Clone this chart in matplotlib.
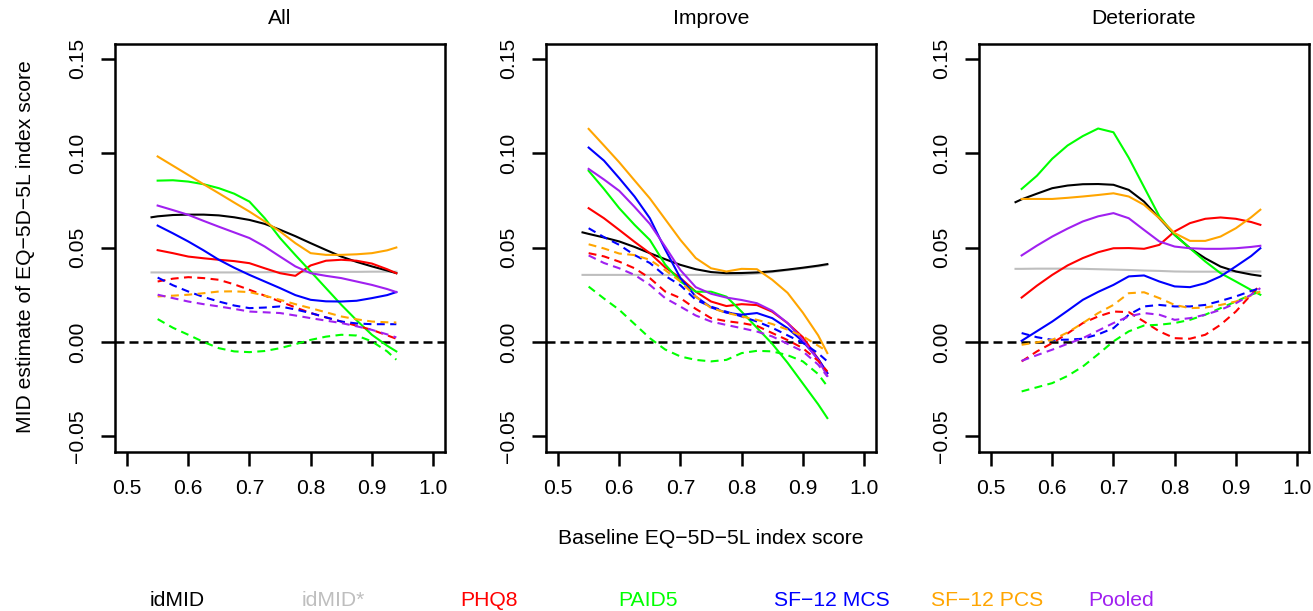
import matplotlib
matplotlib.use('Agg')
import matplotlib.pyplot as plt

plt.rcParams['font.family'] = ['Liberation Sans', 'DejaVu Sans']

# baseline EQ-5D-5L grid the curves are read at
x_grid = [0.55, 0.575, 0.60, 0.625, 0.65, 0.675, 0.70, 0.725, 0.75, 0.775,
          0.80, 0.825, 0.85, 0.875, 0.90, 0.925, 0.94]
x_id = [0.54] + x_grid   # idMID curves start a little earlier

panel_titles = ['All', 'Improve', 'Deteriorate']
legend_labels = ['idMID', 'idMID*', 'PHQ8', 'PAID5', 'SF\u221212 MCS', 'SF\u221212 PCS', 'Pooled']
legend_colors = ['black', '#BEBEBE', '#FF0000', '#00FF00', '#0000FF', '#FFA500', '#A020F0']
xticks = [0.5, 0.6, 0.7, 0.8, 0.9, 1.0]
xtick_labels = ['0.5', '0.6', '0.7', '0.8', '0.9', '1.0']
yticks = [-0.05, 0.0, 0.05, 0.10, 0.15]
ytick_labels = ['\u22120.05', '0.00', '0.05', '0.10', '0.15']

# ---- All ----
all_idmid = [0.066, 0.0665, 0.0672, 0.0674, 0.0674, 0.067, 0.066, 0.0646, 0.0625, 0.0594,
             0.056, 0.0523, 0.0487, 0.0452, 0.0424, 0.040, 0.0378, 0.0364]
all_idmid_s = [0.0368, 0.0368, 0.0368, 0.0368, 0.0368, 0.0368, 0.0368, 0.0369, 0.0369, 0.037,
               0.037, 0.037, 0.037, 0.0371, 0.0371, 0.0372, 0.0372, 0.0372]
all_phq8 = [0.0486, 0.047, 0.0452, 0.0443, 0.0435, 0.0428, 0.0417, 0.039, 0.0364, 0.035,
            0.0405, 0.043, 0.0435, 0.043, 0.0415, 0.0385, 0.0364]
all_paid5 = [0.0854, 0.0856, 0.0849, 0.0835, 0.0814, 0.0785, 0.0743, 0.0655, 0.055, 0.046,
             0.0373, 0.0285, 0.0197, 0.0115, 0.0038, -0.002, -0.005]
all_mcs = [0.0616, 0.0575, 0.0532, 0.0485, 0.0435, 0.0393, 0.0355, 0.032, 0.0285, 0.0248,
           0.0223, 0.0215, 0.0214, 0.0218, 0.0232, 0.0248, 0.0264]
all_pcs = [0.0982, 0.0933, 0.0884, 0.0835, 0.0787, 0.0738, 0.069, 0.0638, 0.0585, 0.0523,
           0.047, 0.0461, 0.0461, 0.0464, 0.047, 0.0485, 0.050]
all_pooled = [0.0722, 0.0698, 0.0673, 0.0641, 0.061, 0.058, 0.055, 0.0505, 0.0452, 0.040,
              0.0364, 0.035, 0.0338, 0.032, 0.0302, 0.028, 0.0264]
all_phq8_d = [0.032, 0.0335, 0.0343, 0.0338, 0.0329, 0.0305, 0.0276, 0.0245, 0.0214, 0.0183,
              0.0153, 0.013, 0.0108, 0.0086, 0.0064, 0.0035, 0.0017]
all_paid5_d = [0.0121, 0.0075, 0.0038, 0.0, -0.0033, -0.005, -0.0054, -0.0048, -0.0033, -0.0012,
               0.0011, 0.0028, 0.0038, 0.0034, 0.0003, -0.005, -0.0094]
all_mcs_d = [0.0341, 0.030, 0.0267, 0.0238, 0.0214, 0.0193, 0.0179, 0.0182, 0.0188, 0.0172,
             0.0153, 0.013, 0.0108, 0.0098, 0.0094, 0.0094, 0.0094]
all_pcs_d = [0.0241, 0.0245, 0.025, 0.0258, 0.0267, 0.0268, 0.0264, 0.0245, 0.0223, 0.020,
             0.0179, 0.0157, 0.0135, 0.012, 0.0108, 0.0104, 0.0103]
all_pooled_d = [0.025, 0.0232, 0.0214, 0.020, 0.0188, 0.0175, 0.0161, 0.0157, 0.0153, 0.014,
                0.0126, 0.0113, 0.010, 0.0083, 0.0064, 0.004, 0.0024]

# ---- Improve ----
imp_idmid = [0.058, 0.0572, 0.0553, 0.0532, 0.0503, 0.047, 0.0438, 0.0408, 0.0385, 0.037,
             0.0364, 0.0365, 0.0368, 0.0374, 0.0383, 0.0393, 0.0404, 0.0412]
imp_idmid_s = [0.0355, 0.0355, 0.0355, 0.0355, 0.0355, 0.0355, 0.0355, 0.0355, 0.0355, 0.0355,
               0.0355, 0.0356, 0.0362, 0.037, 0.038, 0.039, 0.040, 0.0408]
imp_phq8 = [0.0708, 0.0655, 0.0593, 0.053, 0.047, 0.0395, 0.0338, 0.0266, 0.0214, 0.019,
            0.020, 0.0195, 0.016, 0.010, 0.0025, -0.009, -0.0165]
imp_paid5 = [0.0906, 0.081, 0.0708, 0.062, 0.054, 0.041, 0.032, 0.0266, 0.0266, 0.024,
             0.016, 0.0075, -0.001, -0.011, -0.022, -0.033, -0.0403]
imp_mcs = [0.1029, 0.096, 0.0867, 0.077, 0.0655, 0.049, 0.0338, 0.024, 0.0183, 0.0155,
           0.0144, 0.0153, 0.0126, 0.0073, 0.0003, -0.009, -0.0165]
imp_pcs = [0.1128, 0.104, 0.0951, 0.0855, 0.076, 0.065, 0.054, 0.0444, 0.039, 0.0373,
           0.0387, 0.0385, 0.0329, 0.026, 0.0155, 0.0035, -0.0059]
imp_pooled = [0.0916, 0.086, 0.080, 0.0715, 0.0625, 0.0505, 0.038, 0.029, 0.0255, 0.0235,
              0.0222, 0.0205, 0.0165, 0.010, 0.001, -0.0095, -0.018]
imp_phq8_d = [0.047, 0.0453, 0.0425, 0.039, 0.0338, 0.0267, 0.0232, 0.0175, 0.0126, 0.011,
              0.010, 0.0085, 0.0047, 0.001, -0.0033, -0.010, -0.0156]
imp_paid5_d = [0.0293, 0.023, 0.017, 0.0095, 0.002, -0.004, -0.0077, -0.0095, -0.0103, -0.0095,
               -0.0059, -0.0047, -0.005, -0.007, -0.0103, -0.017, -0.0235]
imp_mcs_d = [0.0602, 0.0555, 0.0514, 0.046, 0.0418, 0.035, 0.030, 0.0223, 0.0187, 0.016,
             0.0135, 0.0108, 0.0075, 0.0035, -0.0005, -0.006, -0.0103]
imp_pcs_d = [0.0517, 0.0495, 0.0468, 0.046, 0.0435, 0.038, 0.032, 0.024, 0.018, 0.0155,
             0.0135, 0.0117, 0.0095, 0.0065, 0.003, -0.002, -0.005]
imp_pooled_d = [0.0458, 0.0418, 0.039, 0.0355, 0.0302, 0.0232, 0.0187, 0.014, 0.0108, 0.009,
                0.0073, 0.0055, 0.0029, -0.001, -0.005, -0.012, -0.0183]

# ---- Deteriorate ----
det_idmid = [0.074, 0.0755, 0.0785, 0.0814, 0.0828, 0.0835, 0.0836, 0.0832, 0.0805, 0.0743,
             0.0655, 0.0567, 0.0496, 0.0443, 0.0399, 0.0373, 0.0357, 0.035]
det_idmid_s = [0.0387, 0.0387, 0.0388, 0.0388, 0.0388, 0.0387, 0.0385, 0.0383, 0.0381, 0.0378,
               0.0376, 0.0373, 0.0372, 0.0372, 0.0372, 0.0372, 0.0373, 0.0373]
det_phq8 = [0.0235, 0.0298, 0.0355, 0.0405, 0.0444, 0.0475, 0.0496, 0.0497, 0.0493, 0.0514,
            0.0585, 0.0629, 0.0652, 0.0659, 0.0652, 0.0635, 0.062]
det_paid5 = [0.081, 0.088, 0.097, 0.104, 0.109, 0.113, 0.111, 0.0975, 0.082, 0.0665,
             0.0567, 0.0496, 0.0426, 0.0364, 0.032, 0.0275, 0.025]
det_mcs = [0.0006, 0.0057, 0.0108, 0.0165, 0.0223, 0.0265, 0.0302, 0.0347, 0.0352, 0.032,
           0.0294, 0.029, 0.0311, 0.0347, 0.040, 0.0455, 0.0496]
det_pcs = [0.0757, 0.0757, 0.0757, 0.0763, 0.077, 0.0778, 0.0787, 0.077, 0.0726, 0.0655,
           0.0576, 0.0535, 0.0535, 0.0558, 0.0602, 0.066, 0.070]
det_pooled = [0.0458, 0.051, 0.0558, 0.060, 0.0638, 0.0665, 0.0682, 0.0655, 0.0593, 0.0532,
              0.0505, 0.0496, 0.0493, 0.0493, 0.0496, 0.0503, 0.0509]
det_phq8_d = [-0.0103, -0.005, -0.0006, 0.0045, 0.010, 0.0135, 0.0161, 0.0158, 0.0108, 0.0056,
              0.002, 0.0017, 0.0038, 0.0091, 0.0161, 0.025, 0.0302]
det_paid5_d = [-0.0262, -0.024, -0.0218, -0.018, -0.013, -0.0065, 0.0003, 0.0056, 0.0087, 0.0091,
               0.010, 0.0117, 0.0144, 0.0179, 0.0214, 0.025, 0.0267]
det_mcs_d = [0.0047, 0.0025, 0.0011, 0.0012, 0.0017, 0.004, 0.0073, 0.0144, 0.0188, 0.0196,
             0.0188, 0.0188, 0.0196, 0.0217, 0.0241, 0.027, 0.0285]
det_pcs_d = [-0.0015, -0.0002, 0.0011, 0.005, 0.010, 0.0153, 0.0196, 0.0258, 0.0263, 0.0232,
             0.0196, 0.0179, 0.0182, 0.0196, 0.0214, 0.0245, 0.0267]
det_pooled_d = [-0.010, -0.007, -0.0041, -0.001, 0.002, 0.006, 0.010, 0.0135, 0.0153, 0.0144,
                0.0117, 0.0126, 0.0144, 0.017, 0.0205, 0.025, 0.0285]

panels = [
    (all_idmid, all_idmid_s, [all_phq8, all_paid5, all_mcs, all_pcs, all_pooled],
     [all_phq8_d, all_paid5_d, all_mcs_d, all_pcs_d, all_pooled_d]),
    (imp_idmid, imp_idmid_s, [imp_phq8, imp_paid5, imp_mcs, imp_pcs, imp_pooled],
     [imp_phq8_d, imp_paid5_d, imp_mcs_d, imp_pcs_d, imp_pooled_d]),
    (det_idmid, det_idmid_s, [det_phq8, det_paid5, det_mcs, det_pcs, det_pooled],
     [det_phq8_d, det_paid5_d, det_mcs_d, det_pcs_d, det_pooled_d]),
]

W, H = 1313, 611
fig = plt.figure(figsize=(W / 100, H / 100), dpi=100)

lefts = [114.8, 545.8, 978.8]   # pixel positions of the panel boxes
box_w, box_top, box_bot = 330.5, 43.5, 451.5
FS = 15.2
LW = 1.5

for left, title, (idmid, idmid_s, solid, dashed) in zip(lefts, panel_titles, panels):
    ax = fig.add_axes([left / W, 1 - box_bot / H, box_w / W, (box_bot - box_top) / H])
    ax.set_xlim(0.48, 1.02)
    ax.set_ylim(-0.058, 0.158)

    ax.axhline(0, color='black', lw=1.8, ls=(0, (3.6, 2.0)), zorder=1)
    ax.plot(x_id, idmid_s, color=legend_colors[1], lw=LW, zorder=2)
    ax.plot(x_id, idmid, color=legend_colors[0], lw=LW, zorder=3)
    for vals, col in zip(solid, legend_colors[2:]):
        ax.plot(x_grid, vals, color=col, lw=LW, zorder=4)
    for vals, col in zip(dashed, legend_colors[2:]):
        ax.plot(x_grid, vals, color=col, lw=LW, ls=(0, (3.8, 2.6)), zorder=4)

    ax.set_xticks(xticks)
    ax.set_xticklabels(xtick_labels, fontsize=FS)
    ax.set_yticks(yticks)
    ax.set_yticklabels(ytick_labels, fontsize=FS, rotation=90, va='center')
    ax.tick_params(direction='out', length=10, width=1.8, pad=10)
    for sp in ax.spines.values():
        sp.set_linewidth(1.8)

    fig.text((left + box_w / 2) / W, 1 - 18 / H, title, ha='center', va='center', fontsize=FS)

fig.text((lefts[1] + box_w / 2) / W, 1 - 538 / H, 'Baseline EQ\u22125D\u22125L index score',
         ha='center', va='center', fontsize=FS)
fig.text(26 / W, 1 - 247 / H, 'MID estimate of EQ\u22125D\u22125L index score',
         ha='center', va='center', rotation=90, fontsize=FS)

legend_x = [150, 302, 460, 618, 774, 931, 1088]
for lx, lab, col in zip(legend_x, legend_labels, legend_colors):
    fig.text(lx / W, 1 - 600 / H, lab, color=col, ha='left', va='center', fontsize=FS)

fig.savefig('out.png', dpi=100)
